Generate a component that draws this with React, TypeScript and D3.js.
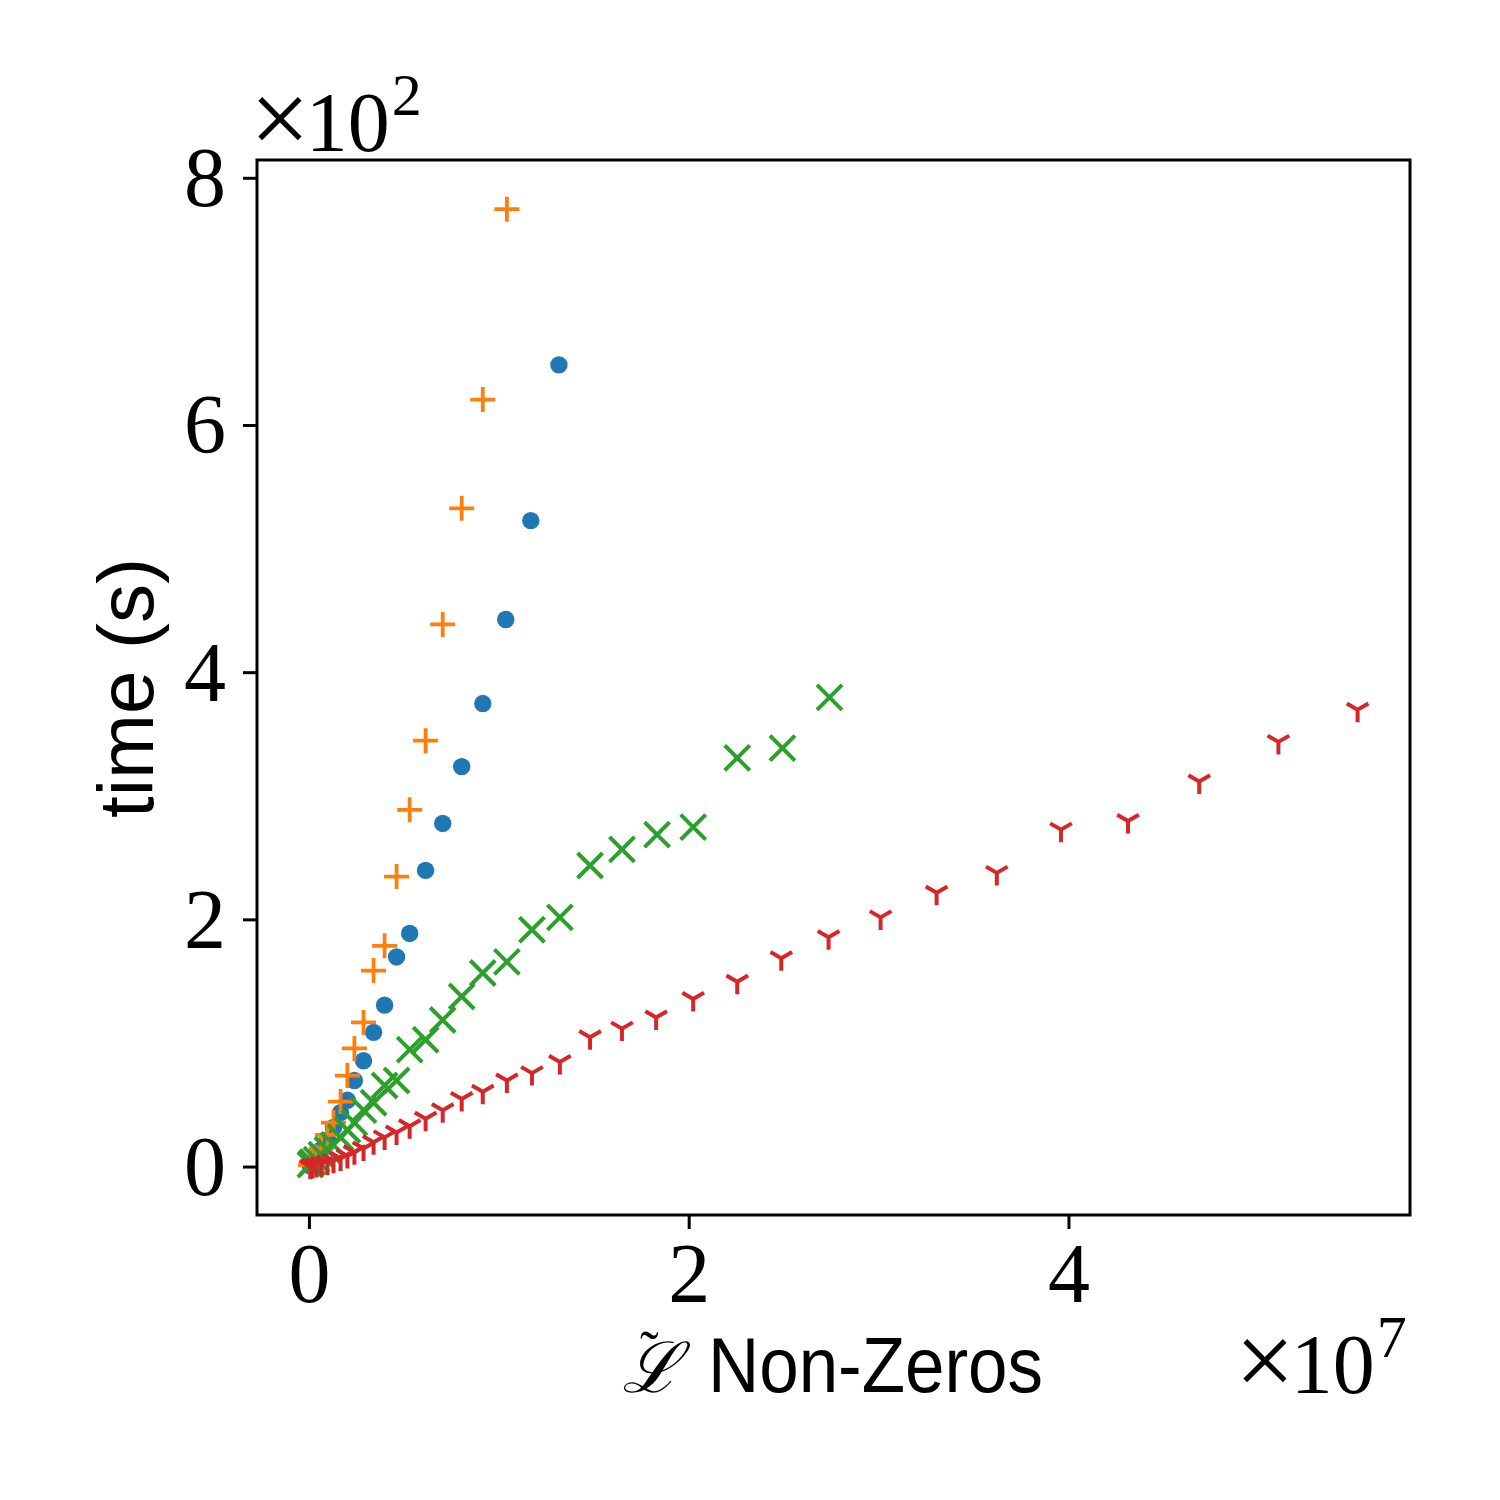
import * as d3 from "d3";

// x values are in units of 1e7 non-zeros, y values in seconds
const blueX = [0.005, 0.016, 0.037, 0.063, 0.095, 0.127, 0.164, 0.2, 0.237, 0.285, 0.338, 0.396, 0.459, 0.528, 0.612, 0.702, 0.802, 0.913, 1.034, 1.166, 1.314];
const blueY = [1, 3, 7, 14, 22, 32, 44, 54, 70, 86, 109, 131, 170, 189, 240, 278, 324, 375, 443, 523, 649];

const orangeX = [0.005, 0.016, 0.037, 0.063, 0.095, 0.127, 0.164, 0.2, 0.237, 0.285, 0.338, 0.396, 0.459, 0.528, 0.612, 0.702, 0.802, 0.913, 1.04];
const orangeY = [1.6, 4, 8, 15, 26, 36, 53, 74, 96, 117, 159, 179, 235, 289, 345, 439, 533, 621, 775];

const greenX = [0.005, 0.016, 0.037, 0.063, 0.095, 0.127, 0.164, 0.2, 0.237, 0.285, 0.338, 0.396, 0.459, 0.528, 0.612, 0.702, 0.802, 0.913, 1.04, 1.172, 1.319, 1.478, 1.646, 1.831, 2.021, 2.253, 2.491, 2.739];
const greenY = [2, 4, 6, 10, 14, 18, 24, 30, 36, 46, 52, 66, 70, 95, 103, 119, 138, 157, 166, 192, 202, 244, 257, 269, 275, 331, 339, 380];

const redX = [0.005, 0.016, 0.037, 0.063, 0.095, 0.127, 0.164, 0.2, 0.237, 0.285, 0.338, 0.396, 0.459, 0.528, 0.612, 0.702, 0.802, 0.913, 1.04, 1.172, 1.319, 1.478, 1.646, 1.826, 2.021, 2.253, 2.485, 2.734, 3.008, 3.303, 3.62, 3.958, 4.311, 4.686, 5.103, 5.52];
const redY = [0.3, 0.8, 1.6, 2.5, 3.5, 5, 7, 9, 12, 15, 20, 24, 28, 33, 39, 46, 55, 61, 70, 76, 85, 105, 112, 121, 136, 150, 169, 186, 202, 222, 238, 273, 280, 312, 344, 370];

const xTicks = [0, 2, 4];
const yTicks = [0, 200, 400, 600, 800];

const C0 = "#1f77b4";
const C1 = "#ff7f0e";
const C2 = "#2ca02c";
const C3 = "#d62728";

const left = 257, right = 1410, top = 160, bottom = 1215;
const serif = "'Liberation Serif', 'DejaVu Serif', serif";
const sans = "'Liberation Sans', 'DejaVu Sans', sans-serif";

export default function App() {
  const x = d3.scaleLinear().domain([-0.276, 5.796]).range([left, right]);
  const y = d3.scaleLinear().domain([-38.8, 814.8]).range([bottom, top]);

  const zip = (xs: number[], ys: number[]) => xs.map((v, i) => [x(v), y(ys[i])]);

  const triArm = 12.5;
  const c30 = Math.cos(Math.PI / 6) * triArm, s30 = Math.sin(Math.PI / 6) * triArm;

  return (
    <svg width={1500} height={1500} style={{ position: "absolute", left: 0, top: 0, background: "#fff" }}>
      <rect width={1500} height={1500} fill="#fff" />
      <g>
        {zip(blueX, blueY).map(([cx, cy], i) => (
          <circle key={"b" + i} cx={cx} cy={cy} r={8.7} fill={C0} />
        ))}
        {zip(orangeX, orangeY).map(([cx, cy], i) => (
          <path key={"o" + i} d={`M${cx - 12.5},${cy}H${cx + 12.5}M${cx},${cy - 12.5}V${cy + 12.5}`} stroke={C1} strokeWidth={3.8} />
        ))}
        {zip(greenX, greenY).map(([cx, cy], i) => (
          <path key={"g" + i} d={`M${cx - 12.5},${cy - 12.5}L${cx + 12.5},${cy + 12.5}M${cx - 12.5},${cy + 12.5}L${cx + 12.5},${cy - 12.5}`} stroke={C2} strokeWidth={4} />
        ))}
        {zip(redX, redY).map(([cx, cy], i) => (
          <path key={"r" + i} d={`M${cx},${cy}V${cy + triArm}M${cx},${cy}L${cx - c30},${cy - s30}M${cx},${cy}L${cx + c30},${cy - s30}`} stroke={C3} strokeWidth={4} fill="none" />
        ))}
      </g>

      <rect x={left} y={top} width={right - left} height={bottom - top} fill="none" stroke="#000" strokeWidth={3} />

      {xTicks.map((t) => (
        <g key={"xt" + t}>
          <line x1={x(t)} x2={x(t)} y1={bottom} y2={bottom + 14} stroke="#000" strokeWidth={3} />
          <text x={x(t)} y={1302} textAnchor="middle" fontFamily={serif} fontSize={84}>{t}</text>
        </g>
      ))}
      {yTicks.map((t) => (
        <g key={"yt" + t}>
          <line x1={left - 14} x2={left} y1={y(t)} y2={y(t)} stroke="#000" strokeWidth={3} />
          <text x={226} y={y(t) + 28} textAnchor="end" fontFamily={serif} fontSize={84}>{t / 100}</text>
        </g>
      ))}

      <text x={250} y={151} fontFamily={serif} fontSize={84}>
        <tspan fontSize={106} dy={3}>×</tspan>
        <tspan dx={-4} dy={-3}>10</tspan>
        <tspan dx={2} fontSize={60} dy={-36}>2</tspan>
      </text>
      <text x={1235} y={1393} fontFamily={serif} fontSize={84}>
        <tspan fontSize={106} dy={3}>×</tspan>
        <tspan dx={-4} dy={-3}>10</tspan>
        <tspan dx={2} fontSize={60} dy={-36}>7</tspan>
      </text>

      <text transform="translate(153,688) rotate(-90)" textAnchor="middle" fontFamily={sans} fontSize={78}>time (s)</text>

      <text x={622} y={1392} fontFamily={serif} fontSize={70}>
        <tspan fontStyle="italic">ℒ</tspan>
        <tspan dx={-40} dy={-22} fontSize={56}>˜</tspan>
      </text>
      <text x={708} y={1392} fontFamily={sans} fontSize={78} textLength={335} lengthAdjust="spacingAndGlyphs">Non-Zeros</text>
    </svg>
  );
}
